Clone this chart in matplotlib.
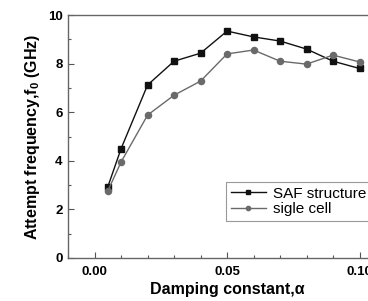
import matplotlib
matplotlib.use("Agg")
import matplotlib.pyplot as plt
from matplotlib.ticker import MultipleLocator

plt.rcParams['font.family'] = ['Liberation Sans', 'DejaVu Sans']
plt.rcParams['mathtext.fontset'] = 'custom'
plt.rcParams['mathtext.rm'] = 'Liberation Sans:bold'
plt.rcParams['mathtext.it'] = 'Liberation Sans:bold'
plt.rcParams['mathtext.bf'] = 'Liberation Sans:bold'

# 阻尼常数
alpha = [0.005, 0.01, 0.02, 0.03, 0.04, 0.05, 0.06, 0.07, 0.08, 0.09, 0.10]
saf = [2.93, 4.5, 7.12, 8.1, 8.43, 9.34, 9.1, 8.93, 8.6, 8.1, 7.8]      # SAF structure
single = [2.76, 3.95, 5.88, 6.7, 7.28, 8.4, 8.56, 8.1, 7.98, 8.35, 8.07]  # sigle cell

fig = plt.figure(figsize=(3.68, 3.01), dpi=100)
ax = fig.add_axes([0.185, 0.143, 0.864, 0.807])

ax.plot(alpha, saf, color='#111111', lw=1.0, marker='s', ms=3.9,
        mec='#111111', mfc='#111111', label='SAF structure')
ax.plot(alpha, single, color='#6a6a6a', lw=1.0, marker='o', ms=4.4,
        mec='#6a6a6a', mfc='#6a6a6a', label='sigle cell')

ax.set_xlim(-0.01, 0.11)
ax.set_ylim(0, 10)
ax.xaxis.set_major_locator(MultipleLocator(0.05))
ax.xaxis.set_minor_locator(MultipleLocator(0.01))
ax.yaxis.set_major_locator(MultipleLocator(2))
ax.yaxis.set_minor_locator(MultipleLocator(1))
ax.xaxis.set_major_formatter(plt.FuncFormatter(lambda v, p: '%.2f' % v))

ax.tick_params(which='both', direction='in', color='#555555', width=0.8)
ax.tick_params(which='major', length=4)
ax.tick_params(which='minor', length=2.5)
ax.tick_params(axis='x', pad=6)
ax.tick_params(axis='y', pad=4)
for lab in ax.get_xticklabels() + ax.get_yticklabels():
    lab.set_fontweight('bold')
    lab.set_fontsize(9.5)
for s in ax.spines.values():
    s.set_color('#666666')
    s.set_linewidth(1.0)

ax.set_xlabel('Damping constant,α', fontsize=11.5, fontweight='bold', labelpad=3)
ax.set_ylabel('Attempt frequency,f$_0$ (GHz)', fontsize=11.5, fontweight='bold', labelpad=4)

leg = ax.legend(loc='upper left', bbox_to_anchor=(0.497, 0.313), borderaxespad=0,
                fontsize=11, fancybox=False, framealpha=1, edgecolor='#999999',
                handlelength=2.3, borderpad=0.3, labelspacing=0.1, handletextpad=0.45,
                markerscale=0.7)
leg.get_frame().set_linewidth(0.8)

fig.savefig('out.png', dpi=100)
